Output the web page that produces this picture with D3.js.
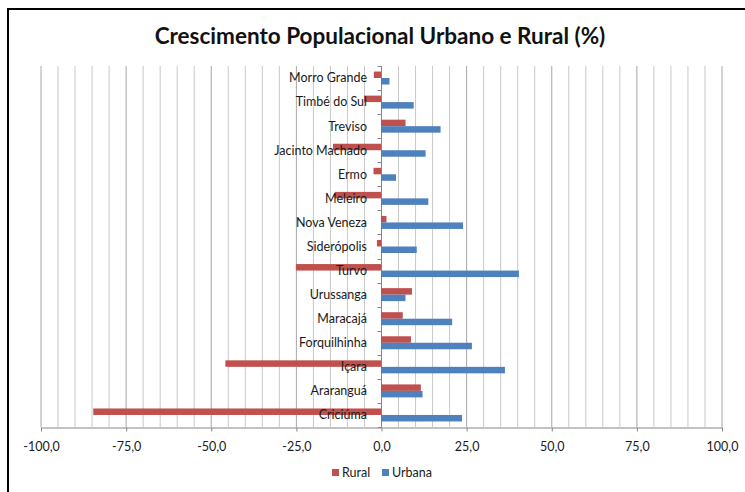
<!DOCTYPE html>
<html>
<head>
<meta charset="utf-8">
<script src="https://cdn.jsdelivr.net/npm/d3@7"></script>
<style>
  html, body { margin: 0; padding: 0; background: #fff; }
  svg { display: block; }
</style>
</head>
<body>
<svg id="chart" width="745" height="492"></svg>
<script>
// Municipalities, top to bottom
const categories = ["Morro Grande", "Timbé do Sul", "Treviso", "Jacinto Machado", "Ermo", "Meleiro",
  "Nova Veneza", "Siderópolis", "Turvo", "Urussanga", "Maracajá", "Forquilhinha", "Içara",
  "Araranguá", "Criciúma"];
// Population growth (%)
const rural  = [-2.1, -5.0, 7.2, -14.1, -2.2, -13.6, 1.6, -1.2, -25.0, 9.1, 6.4, 8.8, -45.7, 11.7, -84.5];
const urbana = [2.5, 9.6, 17.5, 13.1, 4.4, 13.9, 24.1, 10.5, 40.5, 7.2, 20.9, 26.7, 36.4, 12.2, 23.8];
const seriesNames = ["Rural", "Urbana"];
const xTicks = [-100, -75, -50, -25, 0, 25, 50, 75, 100];
const title = "Crescimento Populacional Urbano e Rural (%)";

const colors = { Rural: "#C0504D", Urbana: "#4F81BD" };
const font = "Lato, 'Open Sans', sans-serif";

const svg = d3.select("#chart");

// chart frame
svg.append("rect")
  .attr("x", 8).attr("y", 9).attr("width", 760).attr("height", 500)
  .attr("fill", "#fff").attr("stroke", "#000").attr("stroke-width", 2);

const x = d3.scaleLinear().domain([-100, 100]).range([40.5, 721.5]);
const y = d3.scaleBand().domain(categories).range([66, 427]);
const bw = y.bandwidth();
const ySub = d3.scaleBand().domain(seriesNames).range([bw * 0.23, bw * 0.77]);

const plot = svg.append("g");

// vertical gridlines every 5
const grid = d3.range(-100, 100.01, 5);
plot.selectAll("line.grid").data(grid).join("line")
  .attr("class", "grid")
  .attr("x1", d => x(d) + 0.5).attr("x2", d => x(d) + 0.5)
  .attr("y1", 66).attr("y2", 427)
  .attr("stroke", d => d % 25 === 0 ? "#a6a6a6" : "#c8c8c8")
  .attr("stroke-width", 1);

// bottom axis, labels with comma decimals and a plain hyphen for negatives
const fmt = v => d3.format(".1f")(Math.abs(v)).replace(".", ",");
const xAxis = d3.axisBottom(x).tickValues(xTicks).tickSize(4).tickSizeOuter(0)
  .tickFormat(d => (d < 0 ? "-" : "") + fmt(d));
const gx = svg.append("g").attr("transform", "translate(0.5,427.5)").call(xAxis);
gx.select(".domain").attr("stroke", "#868686");
gx.selectAll(".tick line").attr("stroke", "#868686");
gx.selectAll(".tick text")
  .attr("dy", "0").attr("y", 23)
  .attr("font-family", font).attr("font-size", 12.5).attr("fill", "#1a1a1a");

// vertical axis at zero with category separators
const zx = Math.round(x(0)) + 0.5;
svg.append("line").attr("x1", zx).attr("x2", zx).attr("y1", 66).attr("y2", 427)
  .attr("stroke", "#868686");
const seps = categories.map(c => y(c)).concat([427]);
svg.selectAll("line.sep").data(seps).join("line")
  .attr("class", "sep")
  .attr("x1", zx - 4).attr("x2", zx)
  .attr("y1", d => Math.round(d) + 0.5).attr("y2", d => Math.round(d) + 0.5)
  .attr("stroke", "#868686");

// bars
const rows = categories.map((c, i) => ({ c, Rural: rural[i], Urbana: urbana[i] }));
seriesNames.forEach(s => {
  svg.selectAll("rect.bar-" + s).data(rows).join("rect")
    .attr("class", "bar-" + s)
    .attr("x", d => x(Math.min(0, d[s])))
    .attr("width", d => Math.abs(x(d[s]) - x(0)))
    .attr("y", d => y(d.c) + ySub(s))
    .attr("height", ySub.bandwidth())
    .attr("fill", colors[s]);
});

// category labels (drawn over the bars)
svg.selectAll("text.cat").data(categories).join("text")
  .attr("class", "cat")
  .attr("x", 367).attr("y", d => y(d) + bw / 2)
  .attr("dy", "0.35em")
  .attr("text-anchor", "end")
  .attr("font-family", font).attr("font-size", 12.5).attr("fill", "#1a1a1a")
  .text(d => d);

// title
svg.append("text")
  .attr("x", 380).attr("y", 44)
  .attr("text-anchor", "middle")
  .attr("font-family", font).attr("font-weight", "bold").attr("font-size", 22.5)
  .attr("fill", "#111")
  .text(title);

// legend
const legendPos = { Rural: 332, Urbana: 382 };
seriesNames.forEach(s => {
  svg.append("rect").attr("x", legendPos[s]).attr("y", 469).attr("width", 7).attr("height", 7)
    .attr("fill", colors[s]);
  svg.append("text").attr("x", legendPos[s] + 10).attr("y", 473).attr("dy", "0.35em")
    .attr("font-family", font).attr("font-size", 12.5).attr("fill", "#1a1a1a")
    .text(s);
});
</script>
</body>
</html>
